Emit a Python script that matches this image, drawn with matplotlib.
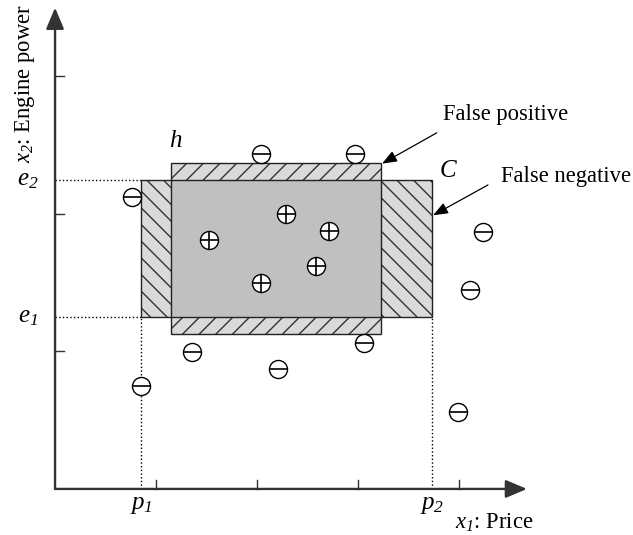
import numpy as np
import matplotlib
matplotlib.use("Agg")
import matplotlib.pyplot as plt
from matplotlib.patches import Rectangle

# Schriften: Times-ähnlich, Formeln ganz kursiv
plt.rcParams['font.family'] = ['Liberation Serif', 'DejaVu Serif']
plt.rcParams['mathtext.fontset'] = 'custom'
plt.rcParams['mathtext.rm'] = 'Liberation Serif:italic'
plt.rcParams['mathtext.it'] = 'Liberation Serif:italic'
plt.rcParams['hatch.linewidth'] = 1.0

# Daten (in Tick-Einheiten)
x_ticks = [1, 2, 3, 4]
y_ticks = [1, 2, 3]
C_box = [0.851, 3.733, 1.251, 2.247]   # p1, p2, e1, e2
h_box = [1.149, 3.228, 1.127, 2.371]

plus_x = [1.525, 2.287, 2.713, 2.584, 2.040]
plus_y = [1.811, 2.000, 1.876, 1.622, 1.498]

minus_x = [2.037, 2.970, 0.765, 4.241, 4.112, 3.056, 3.990, 1.356, 2.208, 0.849]
minus_y = [2.434, 2.436, 2.121, 1.871, 1.447, 1.060, 0.562, 0.996, 0.873, 0.749]

fig = plt.figure(figsize=(6.33, 5.35), dpi=100)
ax = fig.add_axes([0, 0, 1, 1])
ax.set_xlim(-0.545, 5.723)
ax.set_ylim(-0.335, 3.556)
ax.axis('off')

p1, p2, e1, e2 = C_box
h1, h2, g1, g2 = h_box

# Schnittmenge grau
ax.add_patch(Rectangle((h1, e1), h2 - h1, e2 - e1, facecolor='#c0c0c0',
                       edgecolor='none', zorder=1))
# False positive: h ohne C (oben/unten)
for y0, y1 in [(e2, g2), (g1, e1)]:
    ax.add_patch(Rectangle((h1, y0), h2 - h1, y1 - y0, facecolor='#dadada',
                           edgecolor='#333333', hatch='//', lw=0, zorder=1))
# False negative: C ohne h (links/rechts)
for x0, x1 in [(p1, h1), (h2, p2)]:
    ax.add_patch(Rectangle((x0, e1), x1 - x0, e2 - e1, facecolor='#dadada',
                           edgecolor='#333333', hatch='\\\\', lw=0, zorder=1))
# Umrisse
ax.add_patch(Rectangle((h1, g1), h2 - h1, g2 - g1, fill=False,
                       edgecolor='#222222', lw=1.0, zorder=2))
ax.add_patch(Rectangle((p1, e1), p2 - p1, e2 - e1, fill=False,
                       edgecolor='#222222', lw=1.0, zorder=2))

# gepunktete Hilfslinien
ax.plot([0, p1], [e2, e2], ls=':', color='black', lw=1.0, zorder=0)
ax.plot([0, p1], [e1, e1], ls=':', color='black', lw=1.0, zorder=0)
ax.plot([p1, p1], [0, e1], ls=':', color='black', lw=1.0, zorder=0)
ax.plot([p2, p2], [0, e1], ls=':', color='black', lw=1.0, zorder=0)

# Achsen mit Pfeilen
axc = '#333333'
arr = dict(arrowstyle='-|>,head_length=1.3,head_width=0.55', color=axc,
           lw=1.7, mutation_scale=10, shrinkA=0, shrinkB=0)
ax.annotate('', xy=(4.673, 0), xytext=(0, 0), arrowprops=arr, zorder=3)
ax.annotate('', xy=(0, 3.50), xytext=(0, 0), arrowprops=arr, zorder=3)
for t in x_ticks:
    ax.plot([t, t], [0, 0.066], color=axc, lw=1.0)
for t in y_ticks:
    ax.plot([0, 0.085], [t, t], color=axc, lw=1.0)

# Punkte
ms = 13
ax.plot(minus_x, minus_y, 'o', ms=ms, mfc='white', mec='black', mew=1.0, zorder=4)
ax.plot(minus_x, minus_y, '_', ms=ms, mec='black', mew=1.2, zorder=5)
ax.plot(plus_x, plus_y, 'o', ms=ms, mfc='white', mec='black', mew=1.0, zorder=4)
ax.plot(plus_x, plus_y, '_', ms=ms, mec='black', mew=1.2, zorder=5)
ax.plot(plus_x, plus_y, '|', ms=ms, mec='black', mew=1.2, zorder=5)

# Beschriftungen
fs = 16.3
ax.text(1.20, 2.53, '$h$', fontsize=18, ha='center', va='center')
ax.text(3.90, 2.31, '$C$', fontsize=18, ha='center', va='center')
ax.text(3.84, 2.72, 'False positive', fontsize=fs, ha='left', va='center')
ax.text(4.42, 2.27, 'False negative', fontsize=fs, ha='left', va='center')
ax.annotate('', xy=(h2 + 0.01, g2 - 0.005), xytext=(3.78, 2.59),
            arrowprops=dict(arrowstyle='-|>,head_length=0.9,head_width=0.35',
                            color='black', lw=0.9, mutation_scale=10,
                            shrinkA=0, shrinkB=0))
ax.annotate('', xy=(p2 + 0.01, 1.99), xytext=(4.287, 2.211),
            arrowprops=dict(arrowstyle='-|>,head_length=0.9,head_width=0.35',
                            color='black', lw=0.9, mutation_scale=10,
                            shrinkA=0, shrinkB=0))

ax.text(-0.27, e2, r'$e_2$', fontsize=18, ha='center', va='center')
ax.text(-0.27, e1, r'$e_1$', fontsize=18, ha='center', va='center')
ax.text(p1, -0.12, r'$p_1$', fontsize=18, ha='center', va='center')
ax.text(p2, -0.12, r'$p_2$', fontsize=18, ha='center', va='center')
ax.text(4.35, -0.25, r'$x_1$: Price', fontsize=fs, ha='center', va='center')
ax.text(-0.30, 2.95, r'$x_2$: Engine power', fontsize=fs,
        ha='center', va='center', rotation=90)

fig.savefig('out.png', dpi=100)
